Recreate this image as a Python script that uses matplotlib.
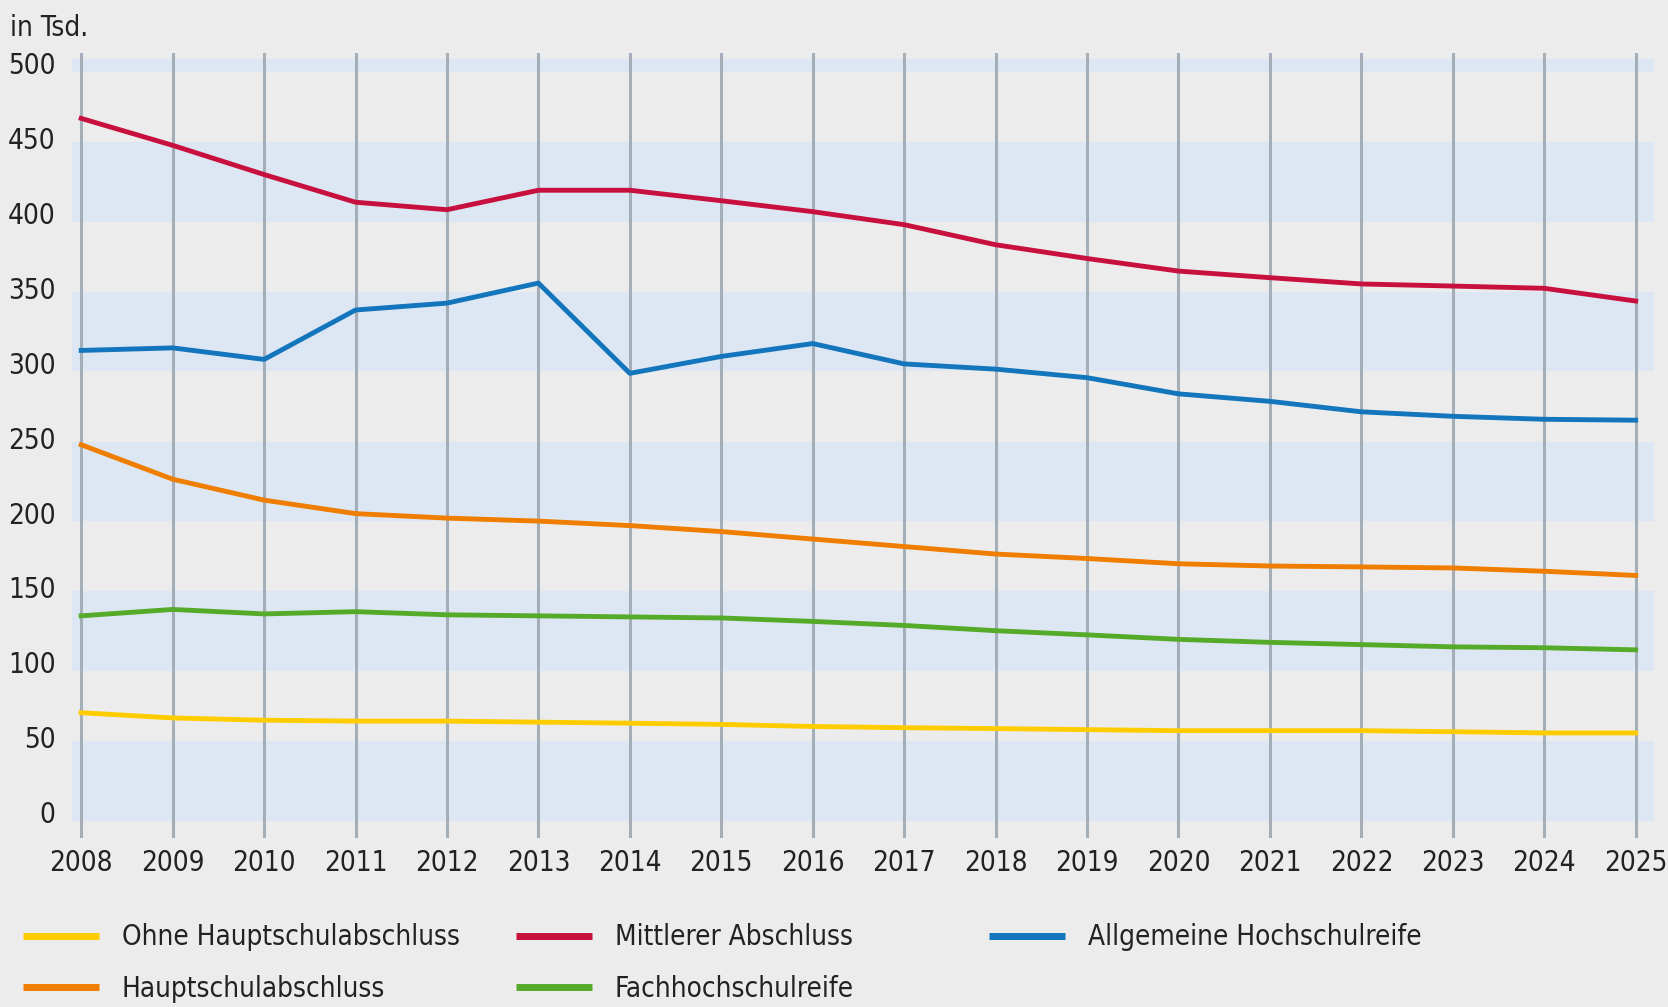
import matplotlib.pyplot as plt
from matplotlib.lines import Line2D
from matplotlib.transforms import ScaledTranslation

plt.rcParams['font.family'] = ['DejaVu Sans']
plt.rcParams['font.stretch'] = 'condensed'

years = list(range(2008, 2026))

ohne_hsa = [71, 67.5, 66, 65.4, 65.4, 64.7, 64, 63.2, 61.8, 61, 60.4, 59.7, 59, 59, 59, 58.3, 57.5, 57.5]
hsa = [250, 227, 213, 204, 201, 199, 196, 192, 187, 182, 177, 174, 170.5, 169, 168.4, 167.7, 165.5, 162.7]
mittlerer = [468, 450, 430.5, 412, 407, 420, 420, 413, 405.7, 397, 383.6, 374.4, 366, 361.6, 357.4, 356, 354.5, 346]
fhr = [135.7, 140, 137, 138.5, 136.4, 135.7, 135, 134.3, 132, 129.3, 125.8, 123, 120, 118, 116.5, 115, 114.4, 113]
ahr = [313, 314.7, 307, 340, 344.6, 358, 297.7, 309, 317.6, 304, 300.5, 294.8, 284, 279, 272, 269, 267, 266.4]

series = [
    ('Ohne Hauptschulabschluss', ohne_hsa, '#ffcc00'),
    ('Hauptschulabschluss', hsa, '#ef7d00'),
    ('Mittlerer Abschluss', mittlerer, '#c8103f'),
    ('Fachhochschulreife', fhr, '#56aa2a'),
    ('Allgemeine Hochschulreife', ahr, '#1375bc'),
]

bg = '#ececec'
txt = '#222222'
fs = 20

fig = plt.figure(figsize=(16.68, 10.07), dpi=100, facecolor=bg)
ax = fig.add_axes([0.0432, 0.1678, 0.9484, 0.7796])
ax.set_facecolor(bg)

# light blue bands every 100 (top one is cut short)
for b in range(0, 501, 100):
    ax.axhspan(b - 1, min(b + 52, 508), xmin=-0.003, color='#dde7f3', lw=0, zorder=0)

for yr in years:
    ax.axvline(yr, color='#a3aeb8', lw=2.2, zorder=1)

for label, vals, col in series:
    ax.plot(years, vals, color=col, lw=3.5, label=label, zorder=3)

ax.set_xlim(2007.9, 2025.2)
ax.set_ylim(-12.7, 511.7)
ax.set_xticks(years)
ax.set_yticks(range(0, 501, 50))
ax.tick_params(length=0, labelsize=fs, colors=txt)
ax.tick_params(axis='x', pad=8)
ax.tick_params(axis='y', pad=12)
for t in ax.get_yticklabels():
    t.set_transform(t.get_transform() + ScaledTranslation(0, 0.07, fig.dpi_scale_trans))
for s in ax.spines.values():
    s.set_visible(False)

fig.text(0.006, 0.972, 'in Tsd.', fontsize=fs, color=txt, va='center', ha='left')

h = {lab: Line2D([], [], color=c, lw=5, solid_capstyle='butt') for lab, _, c in series}
cols = [
    (0.0138, ['Ohne Hauptschulabschluss', 'Hauptschulabschluss']),
    (0.3094, ['Mittlerer Abschluss', 'Fachhochschulreife']),
    (0.5929, ['Allgemeine Hochschulreife']),
]
for x, labs in cols:
    fig.legend([h[l] for l in labs], labs, loc='upper left', bbox_to_anchor=(x, 0.083),
               frameon=False, fontsize=fs, handlelength=2.75, handletextpad=0.8,
               labelspacing=0.85, borderaxespad=0, borderpad=0, labelcolor=txt)

fig.savefig('out.png', dpi=100, facecolor=bg)
